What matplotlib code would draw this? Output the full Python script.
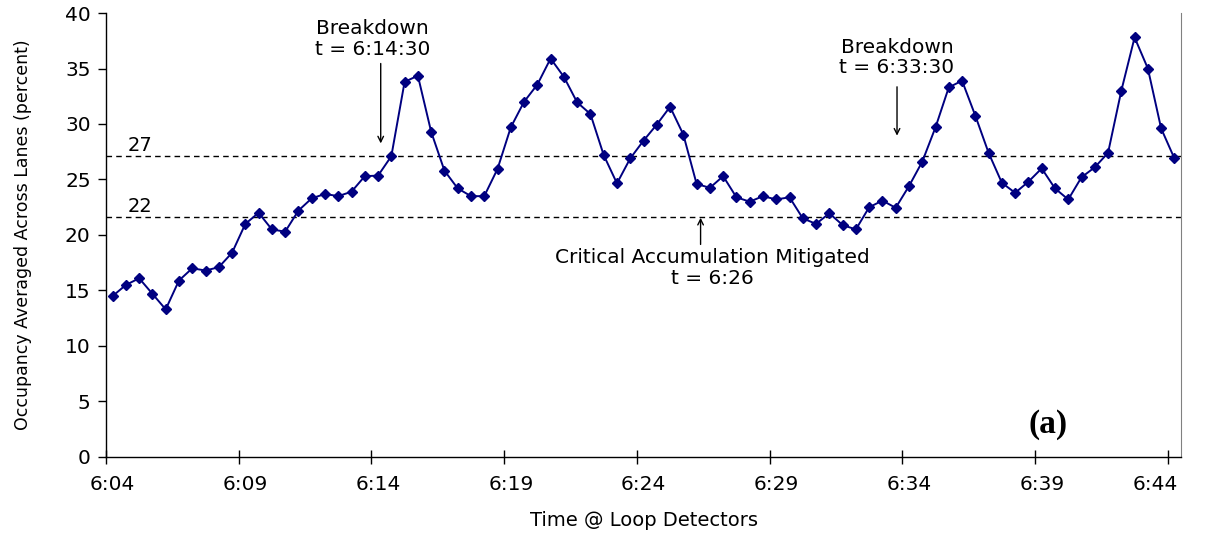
import matplotlib.pyplot as plt
from matplotlib.transforms import ScaledTranslation

plt.rcParams['font.family'] = ['DejaVu Sans']

# occupancy every 30 s from 6:04:00 to 6:44:00 (81 samples)
occupancy = [14.5, 15.5, 16.1, 14.7, 13.3, 15.9, 17.0, 16.8, 17.1, 18.4,
             21.0, 22.0, 20.5, 20.3, 22.2, 23.3, 23.7, 23.5, 23.9, 25.3,
             25.35, 27.1, 33.8, 34.35, 29.3, 25.8, 24.2, 23.5, 23.5, 25.95,
             29.7, 32.0, 33.55, 35.9, 34.25, 31.95, 30.9, 27.2, 24.65, 26.9,
             28.5, 29.95, 31.55, 29.05, 24.6, 24.25, 25.3, 23.4, 23.0, 23.5,
             23.2, 23.4, 21.5, 21.0, 21.95, 20.9, 20.5, 22.5, 23.1, 22.45,
             24.4, 26.6, 29.7, 33.3, 33.9, 30.75, 27.4, 24.7, 23.8, 24.8,
             26.0, 24.2, 23.2, 25.2, 26.1, 27.4, 33.0, 37.8, 35.0, 29.6,
             26.9]
time_labels = ['6:04', '6:09', '6:14', '6:19', '6:24', '6:29', '6:34', '6:39', '6:44']
thresholds = [27.1, 21.6]
threshold_labels = ['27', '22']

x = list(range(len(occupancy)))

fig = plt.figure(figsize=(12.07, 5.35), dpi=100)
ax = fig.add_axes([0.0878, 0.1458, 0.8907, 0.8299])

for t in thresholds:
    ax.axhline(t, color='black', linestyle=(0, (4, 3)), linewidth=1)
for t, lab in zip(thresholds, threshold_labels):
    ax.text(1.1, t + 0.15, lab, fontsize=14, ha='left', va='bottom')

ax.plot(x, occupancy, color='#000080', linewidth=1.4, marker='D', markersize=5)

ax.set_xlim(-0.5, len(occupancy) - 0.5)
ax.set_ylim(0, 40)
ax.set_yticks(range(0, 41, 5))
ax.set_xticks([i - 0.5 for i in range(0, 81, 10)])
ax.set_xticklabels([])
ax.set_xticks(list(range(0, 81, 10)), minor=True)
ax.set_xticklabels(time_labels, minor=True)
ax.tick_params(axis='x', which='major', direction='inout', length=10, width=1)
ax.tick_params(axis='x', which='minor', length=0, labelsize=14.5, pad=13)
ax.tick_params(axis='y', direction='out', length=6, width=1, labelsize=14.5, pad=5)

# last label pulled in so it stays inside the frame, like the original
last = ax.get_xticklabels(minor=True)[-1]
last.set_transform(last.get_transform() + ScaledTranslation(-14 / 72, 0, fig.dpi_scale_trans))

ax.spines['top'].set_visible(False)
ax.spines['right'].set_color('#808080')
ax.spines['left'].set_linewidth(1)
ax.spines['bottom'].set_linewidth(1)

ax.set_xlabel('Time @ Loop Detectors', fontsize=14, labelpad=12)
ax.set_ylabel('Occupancy Averaged Across Lanes (percent)', fontsize=12.5, labelpad=24)

# annotations
ax.annotate('', xy=(20.2, 28.0), xytext=(20.2, 35.7),
            arrowprops=dict(arrowstyle='->', color='black', lw=1))
ax.text(19.6, 35.9, 'Breakdown\nt = 6:14:30', fontsize=14.5, ha='center', va='bottom',
        linespacing=1.1)
ax.annotate('', xy=(59.1, 28.7), xytext=(59.1, 33.6),
            arrowprops=dict(arrowstyle='->', color='black', lw=1))
ax.text(59.1, 34.2, 'Breakdown\nt = 6:33:30', fontsize=14.5, ha='center', va='bottom',
        linespacing=1.1)
ax.annotate('', xy=(44.3, 21.8), xytext=(44.3, 18.9),
            arrowprops=dict(arrowstyle='->', color='black', lw=1))
ax.text(45.2, 18.8, 'Critical Accumulation Mitigated\nt = 6:26', fontsize=14.5,
        ha='center', va='top', linespacing=1.1)

ax.text(69.0, 1.5, '(a)', fontsize=24, fontweight='bold', family='Liberation Serif',
        ha='left', va='bottom')

fig.savefig('out.png', dpi=100)
